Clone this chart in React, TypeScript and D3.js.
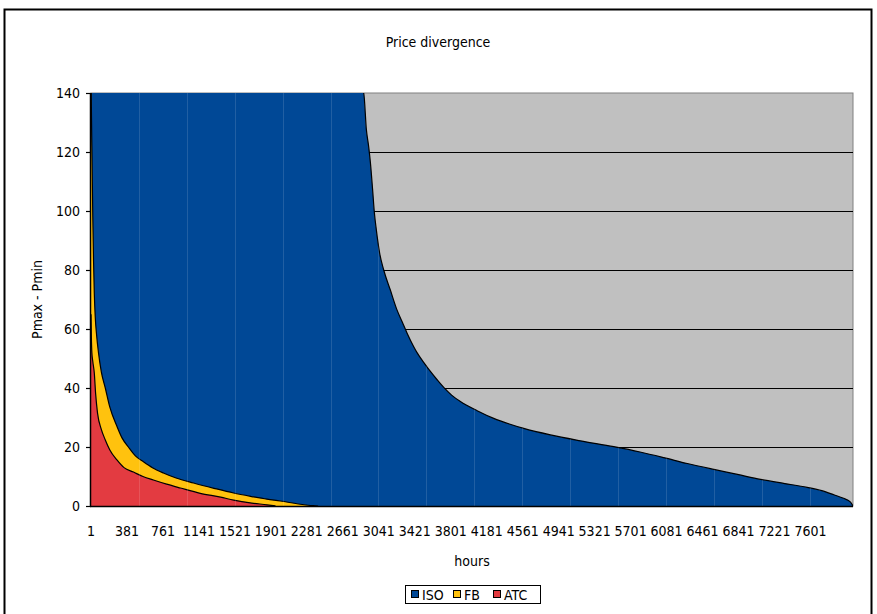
import React from "react";
import * as d3 from "d3";

const isoHours = [1, 1500, 2500, 2881, 2910, 2934, 2952, 2975, 2994, 3015, 3050, 3093, 3163, 3234, 3290, 3340, 3410, 3445, 3515, 3586, 3657, 3727, 3810, 3903, 4080, 4255, 4420, 4572, 4854, 5171, 5523, 5800, 6051, 6300, 6580, 6830, 7073, 7330, 7566, 7720, 7848, 7950, 8024, 8050];
const isoValues = [300, 180, 150, 140, 127.5, 121.8, 116.5, 107.5, 99.5, 93.6, 85.7, 80, 73.2, 66.4, 62.3, 58.6, 54, 52, 48.7, 45.6, 42.8, 40.2, 37.6, 35.4, 32.3, 29.7, 27.8, 26.3, 24.1, 22.1, 20.1, 18.3, 16.4, 14.4, 12.4, 10.7, 9.0, 7.6, 6.3, 5.2, 3.8, 2.6, 1.3, 0];

const fbHours = [1, 5, 10, 15, 20, 28, 36, 46, 60, 80, 110, 152, 200, 275, 330, 396, 470, 555, 650, 766, 900, 1084, 1300, 1507, 1700, 1860, 2000, 2212, 2350, 2400];
const fbValues = [150, 135, 122, 110, 98, 83, 72, 64, 58, 52, 45.5, 40, 33.5, 27, 23, 20, 17, 15, 13, 11.2, 9.5, 7.8, 6, 4.4, 3.2, 2.3, 1.7, 0.6, 0.1, 0];

const atcHours = [1, 5, 10, 20, 36, 50, 70, 110, 152, 200, 275, 350, 450, 550, 660, 800, 945, 1155, 1370, 1508, 1700, 1860, 1950];
const atcValues = [65, 57, 52, 49, 45, 38, 31.5, 26, 22.4, 19, 15.6, 13, 11.5, 10, 8.8, 7.4, 6.1, 4.3, 3, 2, 1, 0.4, 0];

const xTickLabels = [1, 381, 761, 1141, 1521, 1901, 2281, 2661, 3041, 3421, 3801, 4181, 4561, 4941, 5321, 5701, 6081, 6461, 6841, 7221, 7601];
const yTicks = [0, 20, 40, 60, 80, 100, 120, 140];
const seriesNames = ["ISO", "FB", "ATC"];
const seriesColors = ["#004896", "#ffc20e", "#e33b41"];
const hourCount = 8050;
const seamStep = 506;

const W = 877, H = 614;
const L = 91, R = 853, T = 93, B = 506;
const FONT = "'DejaVu Sans', sans-serif";
const FS = 14;

export default function App() {
  const x = d3.scaleLinear().domain([1, hourCount]).range([L, R]);
  const y = d3.scaleLinear().domain([0, 140]).range([B, T]);

  const series = [
    { h: isoHours, v: isoValues },
    { h: fbHours, v: fbValues },
    { h: atcHours, v: atcValues },
  ];
  const area = d3
    .area<[number, number]>()
    .x((d) => x(d[0]))
    .y0(y(0))
    .y1((d) => y(d[1]))
    .curve(d3.curveMonotoneX);
  const line = d3
    .line<[number, number]>()
    .x((d) => x(d[0]))
    .y((d) => y(d[1]))
    .curve(d3.curveMonotoneX);

  const pts = series.map((s) => s.h.map((h, i) => [h, s.v[i]] as [number, number]));
  const seams = d3.range(1 + seamStep, hourCount, seamStep);

  const legendX = [411, 453, 493];

  return (
    <svg width={W} height={H} style={{ position: "absolute", left: 0, top: 0, fontStretch: "condensed" }} fontFamily={FONT}>
      <defs>
        <clipPath id="plot">
          <rect x={L} y={T} width={R - L} height={B - T} />
        </clipPath>
        <clipPath id="isoclip">
          <path d={area(pts[0]) || ""} />
        </clipPath>
      </defs>
      <rect x={0} y={0} width={W} height={H} fill="#fff" />
      <rect x={4.5} y={9.5} width={867} height={640} fill="none" stroke="#000" strokeWidth={2} />
      <text x={438} y={47} textAnchor="middle" fontSize={FS}>Price divergence</text>

      <rect x={L} y={T} width={R - L} height={B - T} fill="#c0c0c0" stroke="#808080" strokeWidth={1} />
      {yTicks.slice(1, -1).map((t) => (
        <line key={t} x1={L} x2={R} y1={Math.round(y(t)) + 0.5} y2={Math.round(y(t)) + 0.5} stroke="#000" strokeWidth={1} />
      ))}

      <g clipPath="url(#plot)">
        {pts.map((p, i) => (
          <g key={i}>
            <path d={area(p) || ""} fill={seriesColors[i]} />
            <path d={line(p) || ""} fill="none" stroke="#000" strokeWidth={1.2} />
          </g>
        ))}
        <g clipPath="url(#isoclip)">
          {seams.map((s) => (
            <line key={s} x1={Math.round(x(s)) + 0.5} x2={Math.round(x(s)) + 0.5} y1={T} y2={B} stroke="#ffffff" strokeOpacity={0.13} strokeWidth={1} />
          ))}
        </g>
      </g>

      <line x1={L - 0.5} x2={L - 0.5} y1={T} y2={B + 1} stroke="#000" strokeWidth={1.5} />
      <line x1={L - 1} x2={R} y1={B + 0.5} y2={B + 0.5} stroke="#000" strokeWidth={1.5} />
      {yTicks.map((t) => (
        <g key={t}>
          <line x1={L - 5} x2={L} y1={Math.round(y(t)) + 0.5} y2={Math.round(y(t)) + 0.5} stroke="#000" strokeWidth={1.2} />
          <text x={80} y={y(t)} dy="0.36em" textAnchor="end" fontSize={FS}>{t}</text>
        </g>
      ))}
      {xTickLabels.map((t) => (
        <text key={t} x={x(t)} y={536} textAnchor="middle" fontSize={FS}>{t}</text>
      ))}
      <text x={(L + R) / 2} y={566} textAnchor="middle" fontSize={FS}>hours</text>
      <text transform={`translate(42,${(T + B) / 2}) rotate(-90)`} textAnchor="middle" fontSize={FS}>Pmax - Pmin</text>

      <rect x={405.5} y={585.5} width={135} height={18} fill="#fff" stroke="#000" strokeWidth={1} />
      {seriesNames.map((n, i) => (
        <g key={n}>
          <rect x={legendX[i] + 0.5} y={590.5} width={7} height={7} fill={seriesColors[i]} stroke="#000" strokeWidth={1} />
          <text x={legendX[i] + 11} y={599.5} fontSize={FS}>{n}</text>
        </g>
      ))}
    </svg>
  );
}
